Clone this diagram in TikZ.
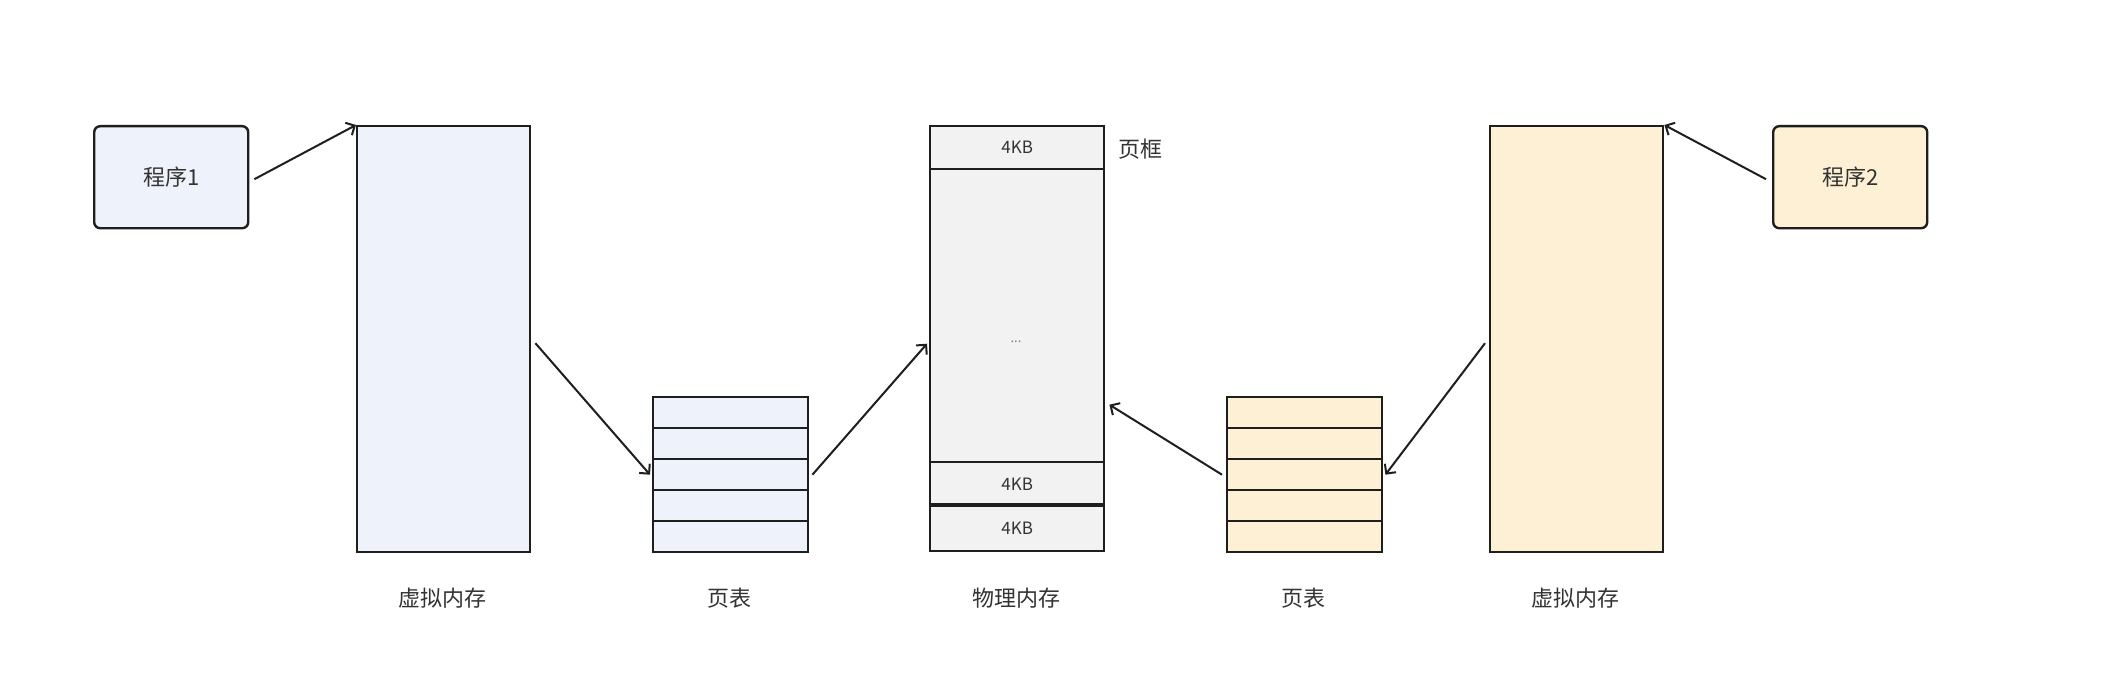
\documentclass[tikz,border=0pt]{standalone}
\usepackage{fontspec}
\setmainfont{Noto Sans CJK SC}
\usetikzlibrary{arrows.meta,calc}
\definecolor{bfill}{HTML}{EEF2FA}
\definecolor{ofill}{HTML}{FDF0D4}
\definecolor{gfill}{HTML}{F2F2F2}
\definecolor{edgec}{HTML}{1E1E1E}
\definecolor{txt}{HTML}{333333}
\begin{document}
\begin{tikzpicture}[x=1pt,y=-1pt,
  box/.style={draw=edgec, line width=2.4pt, inner sep=0pt, anchor=north west, text=txt},
  prog/.style={box, rounded corners=6pt, minimum width=154pt, minimum height=102pt, font=\fontsize{22}{26}\selectfont},
  vmem/.style={box, minimum width=173pt, minimum height=426pt},
  ptrow/.style={box, minimum width=155pt, minimum height=31pt},
  pmcell/.style={box, fill=gfill, minimum width=174pt, font=\fontsize{17}{20}\selectfont},
  lbl/.style={text=txt, font=\fontsize{22}{26}\selectfont, inner sep=0pt},
  arr/.style={draw=edgec, line width=2pt, -{Straight Barb[length=7pt,width=14pt,line width=2pt]}}
]
\useasboundingbox[fill=white] (0,0) rectangle (2128,682);

% left program and virtual memory
\node[prog, fill=bfill] (p1) at (93,125) {程序1};
\node[vmem, fill=bfill] (vm1) at (356,125) {};

% left page table
\node[ptrow, fill=bfill] (pa1) at (652,396) {};
\node[ptrow, fill=bfill] (pa2) at (652,427) {};
\node[ptrow, fill=bfill] (pa3) at (652,458) {};
\node[ptrow, fill=bfill] (pa4) at (652,489) {};
\node[ptrow, fill=bfill] (pa5) at (652,520) {};

% physical memory
\node[pmcell, minimum height=43pt] (pm1) at (929,125) {4KB};
\node[pmcell, minimum height=293pt] (pm2) at (929,168) {};
\node[text=gray, inner sep=0pt, font=\fontsize{13}{14}\selectfont] (dots) at (1016,342) {...};
\node[pmcell, minimum height=44pt] (pm3) at (929,461) {4KB};
\node[pmcell, minimum height=45pt] (pm4) at (929,505) {4KB};
\draw[edgec, line width=4pt] (pm4.north west) -- (pm4.north east);
\node[lbl, anchor=west] (frame) at (1118,149) {页框};

% right page table
\node[ptrow, fill=ofill] (pb1) at (1226,396) {};
\node[ptrow, fill=ofill] (pb2) at (1226,427) {};
\node[ptrow, fill=ofill] (pb3) at (1226,458) {};
\node[ptrow, fill=ofill] (pb4) at (1226,489) {};
\node[ptrow, fill=ofill] (pb5) at (1226,520) {};

% right virtual memory and program
\node[vmem, fill=ofill] (vm2) at (1489,125) {};
\node[prog, fill=ofill] (p2) at (1772,125) {程序2};

% labels
\node[lbl] (l1) at (442,598) {虚拟内存};
\node[lbl] (l2) at (729,598) {页表};
\node[lbl] (l3) at (1016,598) {物理内存};
\node[lbl] (l4) at (1303,598) {页表};
\node[lbl] (l5) at (1575,598) {虚拟内存};

% connectors
\draw[arr] ([xshift=5pt,yshift=-2pt]p1.east) -- (vm1.north west);
\draw[arr] ([xshift=4pt,yshift=-4pt]vm1.east) -- ([xshift=-2pt]pa3.west);
\draw[arr] ([xshift=3pt]pa3.east) -- ([xshift=-2pt,yshift=-28pt]pm2.west);
\draw[arr] ([xshift=-4pt]pb3.west) -- ([xshift=4pt,yshift=-89pt]pm2.east);
\draw[arr] ([xshift=-4pt,yshift=-4pt]vm2.west) -- ([xshift=2pt]pb3.east);
\draw[arr] ([xshift=-6pt,yshift=-2pt]p2.west) -- (vm2.north east);
\end{tikzpicture}
\end{document}
